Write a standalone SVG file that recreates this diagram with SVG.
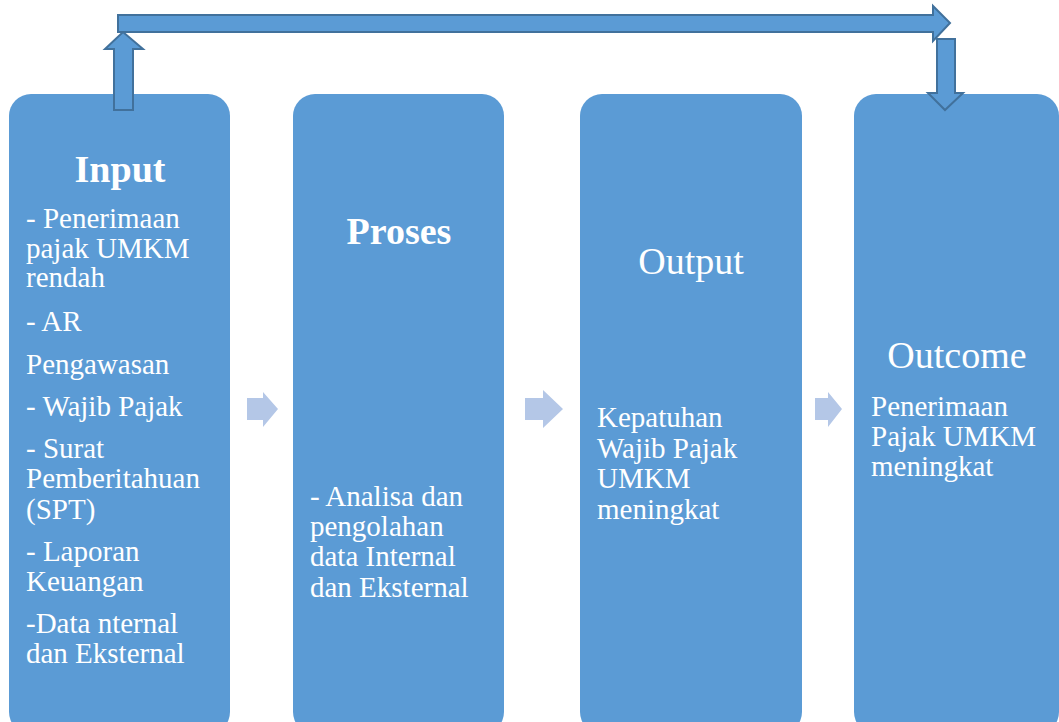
<svg xmlns="http://www.w3.org/2000/svg" width="1059" height="722" viewBox="0 0 1059 722">
<style>
.box{fill:#5B9BD5;}
.bigf{fill:#5B9BD5;stroke:#41719C;stroke-width:2;stroke-linejoin:miter;}
.sm{fill:#B4C7E7;}
text{font-family:"Liberation Serif","Times New Roman",serif;fill:#FFFFFF;}
.t{font-size:29px;}
.h{font-size:38px;}
.hb{font-size:38px;font-weight:bold;}
</style>
<rect width="1059" height="722" fill="#FFFFFF"/>
<g id="node-input">
<rect class="box" x="9" y="94" width="221" height="640" rx="22"/>
<text class="hb" x="120" y="182" text-anchor="middle">Input</text>
<text class="t"><tspan x="26" y="228">- Penerimaan</tspan><tspan x="26" y="258">pajak UMKM</tspan><tspan x="26" y="287">rendah</tspan><tspan x="26" y="331">- AR</tspan><tspan x="26" y="374">Pengawasan</tspan><tspan x="26" y="416">- Wajib Pajak</tspan><tspan x="26" y="458">- Surat</tspan><tspan x="26" y="488">Pemberitahuan</tspan><tspan x="26" y="519">(SPT)</tspan><tspan x="26" y="561">- Laporan</tspan><tspan x="26" y="591">Keuangan</tspan><tspan x="26" y="633">-Data nternal</tspan><tspan x="26" y="663">dan Eksternal</tspan></text>
</g>
<g id="node-proses">
<rect class="box" x="293" y="94" width="211" height="640" rx="22"/>
<text class="hb" x="399" y="244" text-anchor="middle">Proses</text>
<text class="t"><tspan x="310" y="506">- Analisa dan</tspan><tspan x="310" y="536">pengolahan</tspan><tspan x="310" y="566">data Internal</tspan><tspan x="310" y="597">dan Eksternal</tspan></text>
</g>
<g id="node-output">
<rect class="box" x="580" y="94" width="222" height="640" rx="22"/>
<text class="h" x="691" y="274" text-anchor="middle">Output</text>
<text class="t"><tspan x="597" y="427">Kepatuhan</tspan><tspan x="597" y="458">Wajib Pajak</tspan><tspan x="597" y="488">UMKM</tspan><tspan x="597" y="519">meningkat</tspan></text>
</g>
<g id="node-outcome">
<rect class="box" x="854" y="94" width="205" height="640" rx="22"/>
<text class="h" x="957" y="368" text-anchor="middle">Outcome</text>
<text class="t"><tspan x="871" y="416">Penerimaan</tspan><tspan x="871" y="446">Pajak UMKM</tspan><tspan x="871" y="476">meningkat</tspan></text>
</g>
<g id="connectors">
<polygon class="sm" points="247,398 263,398 263,392 278,409 263,427 263,420 247,420"/>
<polygon class="sm" points="525,398 543,398 543,390 563,409 543,428 543,420 525,420"/>
<polygon class="sm" points="815,398 828,398 828,392 842,409 828,427 828,420 815,420"/>
<polygon class="bigf" points="114,110 133,110 133,49 143,49 123,32 105,49 114,49"/>
<polygon class="bigf" points="118,15 933,15 933,6 950,23 933,41 933,32 118,32"/>
<polygon class="bigf" points="937,39 955,39 955,93 963,93 945,110 928,93 937,93"/>
</g>
</svg>
